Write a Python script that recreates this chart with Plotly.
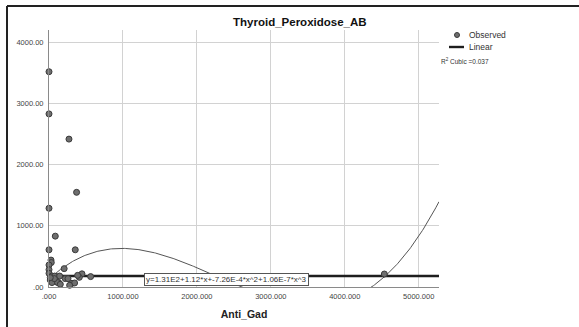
import numpy as np
import plotly.graph_objects as go

# ---------------- data ----------------
anti_gad = [0, 0, 270, 373, 0, 85, 0, 355, 27, 31, 0, 0, 205, 0, 40, 95, 220, 257, 446, 410,
            563, 17, 85, 130, 311, 346, 76, 144, 387, 40, 117, 153, 279, 72, 17, 4535]
thyroid_peroxidose = [3518, 2829, 2417, 1547, 1287, 831, 608, 608, 440, 400, 360, 283, 300, 223, 180, 170,
                      137, 137, 215, 158, 170, 114, 93, 72, 60, 66, 179, 179, 190, 72, 72, 44, 28, 137, 153, 212]
linear_level = 180
cubic_coef = [131, 1.12, -7.26e-4, 1.06e-7]
r2_cubic = "0.037"
equation = "y=1.31E2+1.12*x+-7.26E-4*x^2+1.06E-7*x^3"
x_ticks = [0, 1000, 2000, 3000, 4000, 5000]
x_ticklabels = [".000", "1000.000", "2000.000", "3000.000", "4000.000", "5000.000"]
y_ticks = [0, 1000, 2000, 3000, 4000]
y_ticklabels = [".00", "1000.00", "2000.00", "3000.00", "4000.00"]
x_range = [0, 5274]
y_range = [0, 4200]

# ---------------- layout geometry (pixels) ----------------
W, H = 579, 327
L, R, T, B = 49, 140, 30, 40
PW, PH = W - L - R, H - T - B


def px(x):
    return (x - L) / PW


def py(y):
    return 1 - (y - T) / PH


FONT = "Liberation Sans, Arial, sans-serif"

fig = go.Figure()

xs = np.linspace(x_range[0], x_range[1], 400)
ys = cubic_coef[0] + cubic_coef[1] * xs + cubic_coef[2] * xs ** 2 + cubic_coef[3] * xs ** 3
fig.add_trace(go.Scatter(x=xs, y=ys, mode="lines", name="Cubic",
                         line=dict(color="#555555", width=1), showlegend=False, hoverinfo="skip"))

fig.add_trace(go.Scatter(x=x_range, y=[linear_level, linear_level], mode="lines", name="Linear",
                         line=dict(color="#1e1e1e", width=2.6), showlegend=False))

fig.add_trace(go.Scatter(x=anti_gad, y=thyroid_peroxidose, mode="markers", name="Observed",
                         marker=dict(size=6, color="#6e6e6e", line=dict(color="#3a3a3a", width=1)),
                         showlegend=False, cliponaxis=False))

axis_common = dict(showgrid=True, gridcolor="#d2d2d2", gridwidth=1, zeroline=False,
                   showline=True, linecolor="#8a8a8a", linewidth=1, ticks="",
                   tickfont=dict(family=FONT, size=7.5, color="#444444"))

fig.update_xaxes(range=x_range, tickvals=x_ticks, ticktext=x_ticklabels, ticklabelstandoff=2,
                 title=dict(text="<b>Anti_Gad</b>", font=dict(family=FONT, size=10.5, color="#222222"),
                            standoff=10), **axis_common)
fig.update_yaxes(range=y_range, tickvals=y_ticks, ticktext=y_ticklabels, ticklabelstandoff=3,
                 **axis_common)

shapes = [
    # outer frame (top and left)
    dict(type="line", xref="paper", yref="paper", x0=px(7), x1=px(W + 2), y0=py(6), y1=py(6),
         line=dict(color="#222222", width=2)),
    dict(type="line", xref="paper", yref="paper", x0=px(7), x1=px(7), y0=py(6), y1=py(H + 2),
         line=dict(color="#222222", width=2)),
    # legend: linear line sample
    dict(type="line", xref="paper", yref="paper", x0=px(449), x1=px(464), y0=py(47), y1=py(47),
         line=dict(color="#1e1e1e", width=2.4)),
    # legend: observed marker sample
    dict(type="circle", xref="paper", yref="paper", x0=px(454.5), x1=px(459.5), y0=py(37.5), y1=py(32.5),
         fillcolor="#6e6e6e", line=dict(color="#3a3a3a", width=1)),
]

annotations = [
    dict(text="<b>Thyroid_Peroxidose_AB</b>", xref="paper", yref="paper", x=px(300), y=py(22),
         xanchor="center", yanchor="middle", showarrow=False,
         font=dict(family=FONT, size=11.5, color="#111111")),
    dict(text="Observed", xref="paper", yref="paper", x=px(467), y=py(35), xanchor="left",
         yanchor="middle", showarrow=False, font=dict(family=FONT, size=8.5, color="#333333")),
    dict(text="Linear", xref="paper", yref="paper", x=px(467), y=py(47), xanchor="left",
         yanchor="middle", showarrow=False, font=dict(family=FONT, size=8.5, color="#333333")),
    dict(text="R<sup>2</sup> Cubic =" + r2_cubic, xref="paper", yref="paper", x=px(439), y=py(61),
         xanchor="left", yanchor="middle", showarrow=False,
         font=dict(family=FONT, size=6.5, color="#333333")),
    dict(text=equation, xref="x", yref="y", x=2396, y=125, xanchor="center", yanchor="middle",
         showarrow=False, bgcolor="#ffffff", bordercolor="#555555", borderwidth=1, borderpad=1,
         font=dict(family=FONT, size=8, color="#333333")),
]

fig.update_layout(width=W, height=H, margin=dict(l=L, r=R, t=T, b=B, autoexpand=False),
                  paper_bgcolor="#ffffff", plot_bgcolor="#ffffff", showlegend=False,
                  shapes=shapes, annotations=annotations, font=dict(family=FONT))

fig.write_html("out.html", config={"displayModeBar": False})
